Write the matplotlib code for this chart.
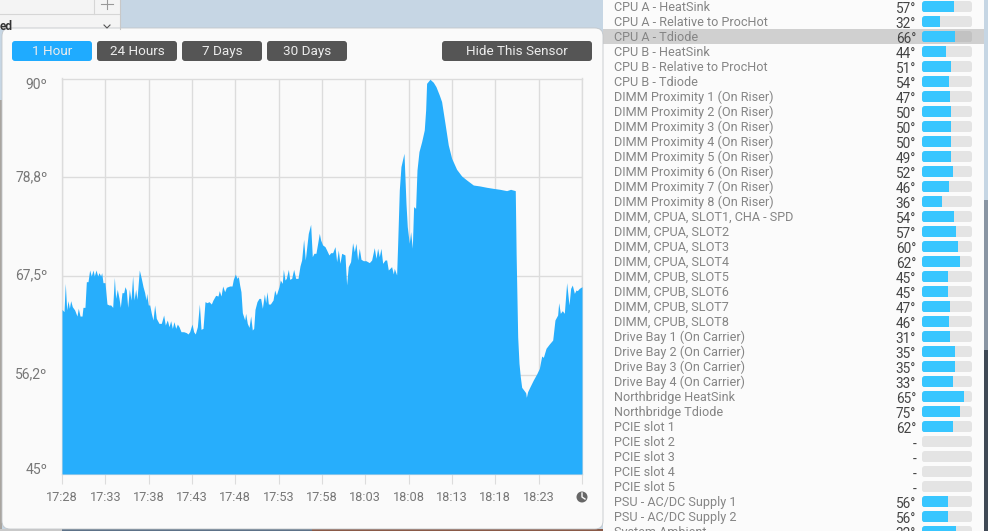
import matplotlib
matplotlib.use("Agg")
import matplotlib.pyplot as plt
from matplotlib.patches import FancyBboxPatch, Rectangle, Circle
from matplotlib.transforms import ScaledTranslation

plt.rcParams["font.family"] = ["Roboto", "DejaVu Sans"]

W, H = 988, 531

# chart data, minutes after 17:28 and temperature
minutes = [
    0, .23, .38, .54, .69, .85, 1.0, 1.19, 1.46, 1.73, 1.88, 2.08, 2.31, 2.42, 2.65, 2.81, 3.0, 3.19, 3.38, 3.58,
    3.73, 3.92, 4.12, 4.27, 4.46, 4.58, 4.73, 4.96, 5.19, 5.42, 5.62, 5.85, 6.04, 6.19, 6.38, 6.58, 6.73, 6.92, 7.12, 7.27,
    7.42, 7.58, 7.77, 7.96, 8.15, 8.31, 8.5, 8.65, 8.92, 9.15, 9.35, 9.54, 9.69, 9.77, 9.96, 10.12, 10.31, 10.5, 10.69, 10.88,
    11.19, 11.46, 11.73, 11.92, 12.15, 12.35, 12.54, 12.73, 12.92, 13.12, 13.31, 13.5, 13.73, 14.04, 14.35, 14.54, 14.73, 15.0, 15.19, 15.38,
    15.62, 15.85, 16.04, 16.27, 16.5, 16.73, 16.96, 17.23, 17.42, 17.73, 18.0, 18.15, 18.35, 18.54, 18.77, 18.96, 19.35, 19.62, 19.77, 20.0,
    20.19, 20.35, 20.5, 20.65, 20.81, 21.08, 21.19, 21.38, 21.58, 21.77, 21.96, 22.12, 22.27, 22.5, 22.73, 22.92, 23.12, 23.35, 23.5, 23.65,
    23.81, 24.04, 24.35, 24.54, 24.73, 25.04, 25.19, 25.42, 25.54, 25.73, 25.88, 26.12, 26.27, 26.5, 26.73, 26.96, 27.23, 27.46, 27.65, 27.88,
    28.07, 28.42, 28.69, 28.88, 29.07, 29.30, 29.50, 29.69, 29.84, 30.07, 30.34, 30.53, 30.80, 31.0, 31.23, 31.5, 31.69, 31.88, 32.07, 32.27,
    32.65, 32.84, 33.03, 33.3, 33.53, 33.73, 33.92, 34.11, 34.3, 34.5, 34.77, 35.07, 35.46, 35.73, 36.03, 36.23, 36.42, 36.61, 36.8, 37.0,
    37.27, 37.46, 37.65, 38.03, 38.23, 38.34, 38.61, 38.73, 38.92, 39.11, 39.46, 39.69, 39.84, 40.07, 40.23, 40.42, 40.57, 40.80, 40.96, 41.19,
    41.5, 41.80, 41.96, 42.07, 42.46, 42.84, 43.15, 43.53, 43.80, 44.19, 44.57, 44.96, 45.53, 46.11, 46.69, 47.46, 48.23, 49.0, 49.76, 50.53,
    51.30, 51.76, 52.3, 52.4, 52.58, 52.73, 52.88, 53.04, 53.27, 53.5, 53.58, 53.73, 54.0, 54.38, 54.77, 55.08, 55.35, 55.54, 55.85, 56.23,
    56.62, 56.88, 57.19, 57.31, 57.5, 57.73, 57.96, 58.23, 58.5, 58.69, 58.88, 59.12, 59.31, 59.46, 59.69, 60.0,
]
temps = [
    63.73, 63.47, 66.69, 63.66, 64.72, 63.85, 64.72, 64.04, 63.66, 62.97, 63.85, 62.97, 62.97, 63.96, 63.96, 66.88, 66.88, 68.21, 67.53, 68.21,
    67.53, 68.21, 67.53, 67.91, 67.53, 67.91, 66.77, 66.77, 64.34, 64.23, 64.23, 63.96, 67.37, 64.98, 66.01, 64.98, 63.96, 65.63, 65.63, 66.31,
    65.93, 63.96, 66.01, 64.79, 67.56, 64.79, 66.01, 64.87, 68.21, 67.26, 66.31, 65.63, 64.79, 65.55, 64.23, 64.23, 63.28, 62.52, 64.23, 62.71,
    62.14, 62.14, 63.09, 61.95, 62.52, 61.76, 62.44, 61.57, 62.33, 61.57, 62.06, 61.76, 61.19, 61.19, 61.08, 60.93, 61.19, 62.06, 61.19, 60.93,
    61.76, 64.34, 61.46, 61.57, 64.61, 64.49, 64.61, 64.34, 64.79, 65.33, 65.25, 65.86, 65.25, 66.39, 65.74, 66.24, 66.39, 66.39, 67.15, 67.75,
    67.26, 67.45, 66.5, 65.74, 63.35, 62.52, 63.28, 62.14, 61.68, 62.97, 61.38, 61.57, 63.73, 64.61, 64.98, 64.98, 63.85, 65.48, 64.49, 65.74,
    64.34, 64.34, 64.79, 65.93, 65.36, 66.31, 67.07, 66.69, 68.28, 67.07, 67.26, 68.28, 67.15, 67.26, 68.28, 67.26, 67.26, 68.67, 69.35, 71.70,
    69.35, 72.38, 73.41, 69.73, 70.11, 70.11, 71.25, 72.38, 71.63, 71.06, 70.87, 70.49, 69.92, 70.18, 70.18, 70.87, 69.16, 70.49, 68.97, 70.11,
    69.92, 66.51, 68.59, 69.16, 71.32, 70.30, 71.25, 69.35, 70.68, 69.43, 69.27, 69.27, 69.05, 69.35, 70.75, 69.54, 70.68, 69.73, 70.68, 68.97,
    69.35, 69.35, 68.21, 68.59, 67.76, 68.40, 67.64, 71.17, 77.32, 79.97, 81.49, 75.80, 73.14, 71.25, 72.57, 70.68, 75.42, 75.23, 79.59, 81.68,
    82.82, 84.14, 86.42, 89.45, 89.91, 89.57, 89.07, 88.13, 87.37, 84.90, 82.44, 80.92, 79.67, 78.91, 78.45, 77.88, 77.77, 77.62, 77.50, 77.39,
    77.24, 77.39, 77.24, 70.0, 60.6, 57.6, 56.07, 54.86, 54.56, 54.25, 53.72, 54.37, 54.93, 55.69, 56.38, 57.02, 58.42, 58.27, 59.3, 59.79,
    60.24, 62.52, 63.09, 64.49, 63.28, 63.58, 63.28, 66.77, 64.23, 66.12, 66.5, 65.55, 65.93, 65.86, 66.12, 66.31,
]
y_ticks = [45, 56.25, 67.5, 78.75, 90]
y_labels = ["45º", "56,2º", "67,5º", "78,8º", "90º"]
x_ticks = [0, 5, 10, 15, 20, 25, 30, 35, 40, 45, 50, 55, 60]
x_labels = ["17:28", "17:33", "17:38", "17:43", "17:48", "17:53", "17:58", "18:03", "18:08", "18:13", "18:18", "18:23", ""]

# sensor list on the right
sensor_names = [
    "CPU A - HeatSink", "CPU A - Relative to ProcHot", "CPU A - Tdiode", "CPU B - HeatSink",
    "CPU B - Relative to ProcHot", "CPU B - Tdiode", "DIMM Proximity 1 (On Riser)", "DIMM Proximity 2 (On Riser)",
    "DIMM Proximity 3 (On Riser)", "DIMM Proximity 4 (On Riser)", "DIMM Proximity 5 (On Riser)",
    "DIMM Proximity 6 (On Riser)", "DIMM Proximity 7 (On Riser)", "DIMM Proximity 8 (On Riser)",
    "DIMM, CPUA, SLOT1, CHA - SPD", "DIMM, CPUA, SLOT2", "DIMM, CPUA, SLOT3", "DIMM, CPUA, SLOT4",
    "DIMM, CPUB, SLOT5", "DIMM, CPUB, SLOT6", "DIMM, CPUB, SLOT7", "DIMM, CPUB, SLOT8",
    "Drive Bay 1 (On Carrier)", "Drive Bay 2 (On Carrier)", "Drive Bay 3 (On Carrier)", "Drive Bay 4 (On Carrier)",
    "Northbridge HeatSink", "Northbridge Tdiode", "PCIE slot 1", "PCIE slot 2", "PCIE slot 3", "PCIE slot 4",
    "PCIE slot 5", "PSU - AC/DC Supply 1", "PSU - AC/DC Supply 2", "System Ambient",
]
sensor_temps = [
    "57°", "32°", "66°", "44°", "51°", "54°", "47°", "50°", "50°", "50°", "49°", "52°", "46°", "36°",
    "54°", "57°", "60°", "62°", "45°", "45°", "47°", "46°", "31°", "35°", "35°", "33°", "65°", "75°",
    "62°", "-", "-", "-", "-", "56°", "56°", "32°",
]
sensor_fill = [
    64, 36, 66, 48, 58, 54, 56, 58, 58, 58, 58, 62, 54, 40,
    64, 68, 72, 76, 52, 52, 56, 54, 56, 66, 66, 62, 84, 76,
    62, 0, 0, 0, 0, 52, 52, 68,
]
buttons = ["1 Hour", "24 Hours", "7 Days", "30 Days", "Hide This Sensor"]

fig = plt.figure(figsize=(W / 100, H / 100), dpi=100)

# screenshot chrome, drawn in pixel coordinates
ui = fig.add_axes([0, 0, 1, 1])
ui.set_xlim(0, W)
ui.set_ylim(H, 0)
ui.axis("off")

# wallpaper pieces
ui.add_patch(Rectangle((0, 0), W, H, color="#c6d6e4", lw=0))
ui.add_patch(Rectangle((984, 200), 4, 150, color="#8995a3", lw=0))
ui.add_patch(Rectangle((984, 350), 4, 181, color="#3f4955", lw=0))
ui.add_patch(Rectangle((0, 100), 2, 431, color="#a9a5a0", lw=0))
ui.add_patch(Rectangle((62, 529), 250, 2, color="#5d7288", lw=0))
ui.add_patch(Rectangle((312, 529), 291, 2, color="#8a5a48", lw=0))
ui.add_patch(Rectangle((0, 529), 62, 2, color="#c9c9c9", lw=0))

# finder window behind the panel
ui.add_patch(Rectangle((0, 0), 120, 29, color="#f4f4f4", lw=0))
ui.plot([0, 120], [14, 14], color="#d6d6d6", lw=0.8)
ui.plot([93.5, 93.5], [0, 14], color="#d6d6d6", lw=0.8)
ui.plot([119.5, 119.5], [0, 29], color="#c8c8c8", lw=0.8)
ui.plot([101, 113], [4, 4], color="#999999", lw=0.8)
ui.plot([107, 107], [0, 9], color="#999999", lw=0.8)
ui.plot([104, 107, 110], [25, 28, 25], color="#555555", lw=0.8)
ui.text(0, 26, "ed", fontsize=8.5, color="#333333", va="center", fontweight="bold")

# sensor list background
ui.add_patch(Rectangle((603, 0), 381, H, color="#fbfbfb", lw=0))
ui.add_patch(Rectangle((603, 29), 381, 15, color="#d0d0d0", lw=0))

# graph panel
ui.add_patch(FancyBboxPatch((6, 32), 593, 493, boxstyle="round,pad=4,rounding_size=8",
                            fc="#fafafa", ec="#c2c6ca", lw=0.6))

# buttons
button_x = [12, 97, 182, 267, 442]
button_w = [80, 80, 80, 80, 150]
for i, label in enumerate(buttons):
    color = "#1fabff" if i == 0 else "#555555"
    ui.add_patch(FancyBboxPatch((button_x[i] + 3, 44), button_w[i] - 6, 14,
                                boxstyle="round,pad=3,rounding_size=3", fc=color, ec="none"))
    ui.text(button_x[i] + button_w[i] / 2, 51.3, label, color="#ececec", fontsize=9.7,
            ha="center", va="center")

# sensor text
row_y = [6.7 + 15 * i for i in range(len(sensor_names))]
for y, name, value in zip(row_y, sensor_names, sensor_temps):
    ui.text(614, y + 0.8, name, color="#858585", fontsize=9.1, va="center", clip_on=True)
    ui.text(916, y + 1.2, value, color="#444444", fontsize=9.8, ha="right", va="center_baseline", clip_on=True)

# sensor bars
bars_ax = fig.add_axes([922 / W, 0, 50 / W, 1])
bars_ax.set_xlim(0, 100)
bars_ax.set_ylim(H, 0)
bars_ax.axis("off")
for i, (y, fill) in enumerate(zip(row_y, sensor_fill)):
    shape = FancyBboxPatch((925, y - 2.7), 44, 5.4, boxstyle="round,pad=3,rounding_size=3",
                           fc="none", ec="none", transform=ui.transData)
    track_color = "#c2c2c2" if i == 2 else "#e4e4e4"
    track = bars_ax.barh(y, 100, height=11.4, color=track_color, lw=0)[0]
    part = bars_ax.barh(y, fill, height=11.4, color="#38c6ff", lw=0)[0]
    track.set_clip_path(shape)
    part.set_clip_path(shape)

# main chart
ax = fig.add_axes([62 / W, 1 - 474 / H, 520 / W, 395.5 / H])
ax.set_facecolor("none")
ax.fill_between(minutes, temps, 45, color="#27aefc", lw=0, zorder=3)
ax.set_xlim(0, 60)
ax.set_ylim(45, 90)
ax.set_xticks(x_ticks)
ax.set_xticklabels(x_labels)
ax.set_yticks(y_ticks)
ax.set_yticklabels(y_labels)
ax.grid(True, color="#dcdcdc", lw=1, zorder=1)
ax.set_axisbelow(True)
for side in ax.spines:
    ax.spines[side].set_color("#dcdcdc")
    ax.spines[side].set_linewidth(1)
ax.tick_params(axis="x", length=7.2, width=0.8, color="#dcdcdc", labelcolor="#777777", labelsize=9.2, pad=5)
ax.tick_params(axis="y", length=0, labelcolor="#777777", labelsize=10, pad=10.5)

# y labels do not sit quite on their lines, shift in pixels upward
label_shift = [5, 2, 2, 2, -5]
for lab, shift in zip(ax.get_yticklabels(), label_shift):
    lab.set_transform(lab.get_transform() + ScaledTranslation(0, shift / 100, fig.dpi_scale_trans))

# clock icon after the last tick
ui.add_patch(Circle((582, 497), 5.5, fc="#666666", ec="none", zorder=5))
ui.plot([582, 582, 585], [493, 497, 499], color="#fafafa", lw=1, zorder=6)

fig.savefig("out.png", dpi=100)
